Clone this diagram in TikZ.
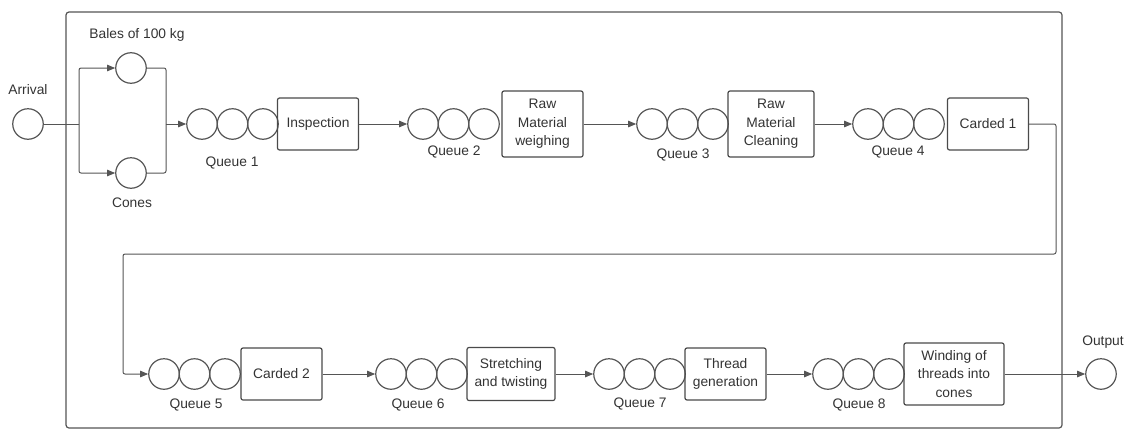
\documentclass[tikz,border=0pt]{standalone}
\usepackage{fontspec}
\setmainfont{Liberation Sans}
\usepackage{xcolor}
\usetikzlibrary{arrows.meta, positioning, calc}
\definecolor{linegray}{HTML}{555555}
\definecolor{boxgray}{HTML}{4A4A4A}
\definecolor{txtgray}{HTML}{333333}

\begin{document}
\begin{tikzpicture}[x=1pt, y=-1pt,
    every node/.style={font=\fontsize{13.8}{18.5}\selectfont, text=txtgray},
    qcirc/.style={circle, draw=linegray, line width=1.2pt, minimum size=30.5pt, inner sep=0pt},
    procbox/.style={draw=boxgray, line width=1.2pt, rounded corners=2pt, align=center, minimum width=81pt, minimum height=52pt, inner sep=2pt},
    flow/.style={draw=linegray, line width=1pt, rounded corners=2pt, -{Triangle[length=8pt, width=6.5pt]}}]
    \useasboundingbox (0,0) rectangle (1124,434);

    % Outer frame
    \draw[linegray, line width=1.2pt, rounded corners=3pt] (66,12) rectangle (1062,428);

    % Arrival and the two inputs
    \node[qcirc] (arrival) at (28,124) {};
    \node (larrival) at (28,90) {Arrival};
    \node[qcirc] (bales) at (131,68) {};
    \node (lbales) at (137,35) {Bales of 100 kg};
    \node[qcirc] (cones) at (131,173) {};
    \node (lcones) at (132,203) {Cones};
    \coordinate (split) at (79,124);
    \coordinate (merge) at (166,124);

    % Row 1
    \node[qcirc] (q1a) at (202,124) {}; \node[qcirc] (q1b) at (232.5,124) {}; \node[qcirc] (q1c) at (263,124) {};
    \node (lq1) at (232,163) {Queue 1};
    \node[procbox] (insp) at (318,124) {Inspection};

    \node[qcirc] (q2a) at (423,124) {}; \node[qcirc] (q2b) at (453.5,124) {}; \node[qcirc] (q2c) at (484,124) {};
    \node (lq2) at (454,152) {Queue 2};
    \node[procbox, minimum height=66pt] (weigh) at (542.5,124) {Raw\\Material\\weighing};

    \node[qcirc] (q3a) at (652,124) {}; \node[qcirc] (q3b) at (682.5,124) {}; \node[qcirc] (q3c) at (713,124) {};
    \node (lq3) at (683,155) {Queue 3};
    \node[procbox, minimum width=86pt, minimum height=66pt] (clean) at (771,124) {Raw\\Material\\Cleaning};

    \node[qcirc] (q4a) at (868,124) {}; \node[qcirc] (q4b) at (898.5,124) {}; \node[qcirc] (q4c) at (929,124) {};
    \node (lq4) at (898,152) {Queue 4};
    \node[procbox] (card1) at (988,124) {Carded 1};

    % Row 2
    \node[qcirc] (q5a) at (164,374) {}; \node[qcirc] (q5b) at (194.5,374) {}; \node[qcirc] (q5c) at (225,374) {};
    \node (lq5) at (196,405) {Queue 5};
    \node[procbox] (card2) at (281.5,374) {Carded 2};

    \node[qcirc] (q6a) at (391,374) {}; \node[qcirc] (q6b) at (421.5,374) {}; \node[qcirc] (q6c) at (452,374) {};
    \node (lq6) at (418,405) {Queue 6};
    \node[procbox, minimum width=88pt, minimum height=53pt] (stretch) at (511,374) {Stretching\\and twisting};

    \node[qcirc] (q7a) at (609,374) {}; \node[qcirc] (q7b) at (639.5,374) {}; \node[qcirc] (q7c) at (670,374) {};
    \node (lq7) at (640,404) {Queue 7};
    \node[procbox] (thread) at (725.5,374) {Thread\\generation};

    \node[qcirc] (q8a) at (828,374) {}; \node[qcirc] (q8b) at (858.5,374) {}; \node[qcirc] (q8c) at (889,374) {};
    \node (lq8) at (859,405) {Queue 8};
    \node[procbox, minimum width=100pt, minimum height=62pt] (wind) at (954,374) {Winding of\\threads into\\cones};

    \node[qcirc] (output) at (1101,374) {};
    \node (loutput) at (1103,342) {Output};

    % Connectors
    \draw[flow, -] (arrival.east) -- (split);
    \draw[flow] (split) |- (bales.west);
    \draw[flow] (split) |- (cones.west);
    \draw[flow, -] (bales.east) -| (merge);
    \draw[flow, -] (cones.east) -| (merge);
    \draw[flow] (merge) -- (q1a.west);
    \draw[flow] (insp.east) -- (q2a.west);
    \draw[flow] (weigh.east) -- (q3a.west);
    \draw[flow] (clean.east) -- (q4a.west);

    % Return from Carded 1 to Queue 5
    \coordinate (rt) at (1056,254);
    \coordinate (lt) at (123,254);
    \draw[flow] (card1.east) -| (rt) -- (lt) |- (q5a.west);

    \draw[flow] (card2.east) -- (q6a.west);
    \draw[flow] (stretch.east) -- (q7a.west);
    \draw[flow] (thread.east) -- (q8a.west);
    \draw[flow] (wind.east) -- (output.west);
\end{tikzpicture}
\end{document}
